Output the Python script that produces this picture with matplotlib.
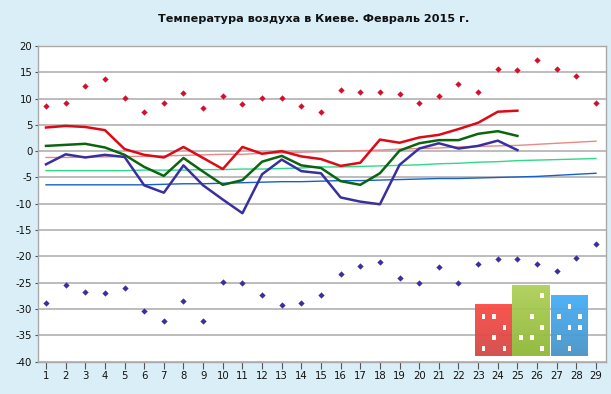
import numpy as np
import matplotlib
matplotlib.use("Agg")
import matplotlib.pyplot as plt
from matplotlib.patches import Rectangle

# Дни месяца
days = list(range(1, 30))
days_obs = days[:25]

# Наблюдения, февраль 2015
t_max = [4.5, 4.8, 4.6, 4.0, 0.4, -0.7, -1.2, 0.8, -1.3, -3.4, 0.8, -0.5, 0.0, -1.0, -1.5,
         -2.8, -2.2, 2.2, 1.6, 2.6, 3.1, 4.2, 5.4, 7.5, 7.7]
t_mean = [1.0, 1.2, 1.4, 0.7, -0.7, -3.0, -4.7, -1.3, -3.9, -6.4, -5.5, -2.0, -0.9, -2.7, -3.2,
          -5.7, -6.4, -4.2, 0.1, 1.5, 2.1, 2.1, 3.3, 3.8, 2.9]
t_min = [-2.5, -0.6, -1.2, -0.7, -1.1, -6.5, -7.9, -2.7, -6.5, -9.2, -11.8, -4.4, -1.6, -3.8, -4.2,
         -8.8, -9.6, -10.1, -2.6, 0.5, 1.5, 0.5, 1.0, 2.0, 0.2]

# Абсолютные рекорды
rec_high = [8.5, 9.2, 12.3, 13.7, 10.2, 7.5, 9.2, 11.0, 8.3, 10.4, 8.9, 10.2, 10.2, 8.5, 7.5,
            11.7, 11.2, 11.2, 10.8, 9.2, 10.4, 12.7, 11.2, 15.7, 15.5, 17.3, 15.7, 14.2, 9.2]
rec_low = [-28.8, -25.4, -26.8, -27.0, -26.0, -30.4, -32.3, -28.5, -32.3, -24.8, -25.0, -27.3, -29.2, -28.8, -27.4,
           -23.3, -21.8, -21.0, -24.2, -25.0, -22.0, -25.0, -21.5, -20.6, -20.6, -21.5, -22.7, -20.4, -17.7]

# Климатические нормы
norm_max = [-1.2, -1.2, -1.1, -1.1, -1.0, -1.0, -0.9, -0.8, -0.7, -0.6, -0.6, -0.4, -0.3, -0.2, -0.1,
            0.0, 0.1, 0.2, 0.4, 0.5, 0.6, 0.8, 0.9, 1.0, 1.1, 1.3, 1.5, 1.7, 1.9]
norm_mean = [-3.7, -3.7, -3.7, -3.7, -3.7, -3.6, -3.6, -3.6, -3.5, -3.5, -3.4, -3.4, -3.3, -3.2, -3.0,
             -3.0, -2.9, -2.8, -2.7, -2.6, -2.4, -2.3, -2.1, -2.0, -1.8, -1.7, -1.6, -1.5, -1.4]
norm_min = [-6.4, -6.4, -6.4, -6.4, -6.4, -6.4, -6.3, -6.2, -6.2, -6.1, -6.0, -5.9, -5.8, -5.8, -5.7,
            -5.6, -5.6, -5.5, -5.4, -5.3, -5.2, -5.2, -5.1, -5.0, -4.9, -4.8, -4.6, -4.4, -4.2]

y_ticks = list(range(-40, 25, 5))
title = "Температура воздуха в Киеве. Февраль 2015 г."

W, H = 611, 394
BG = "#d9eef6"

plt.rcParams["font.family"] = ["DejaVu Sans"]
plt.rcParams["axes.unicode_minus"] = False

fig = plt.figure(figsize=(W / 100, H / 100), dpi=100, facecolor=BG)
ax = fig.add_axes([37.5 / W, (H - 361.5) / H, 568.5 / W, 315.5 / H])
ax.set_xlim(0.567, 29.51)
ax.set_ylim(-40, 20)
ax.set_xticks(days)
ax.set_yticks(y_ticks)
ax.tick_params(axis="x", length=5, width=0.8, color="#555555", labelsize=7.3, pad=1.8, labelcolor="#111111")
ax.tick_params(axis="y", length=2.2, width=0.8, color="#555555", labelsize=7.3, pad=1.5, labelcolor="#111111")
ax.grid(axis="y", color="#b0b0b0", lw=1.2)
ax.set_axisbelow(True)
for s in ax.spines.values():
    s.set_color("#aaaaaa")
    s.set_linewidth(1.0)

# Нормы
ax.plot(days, norm_max, color="#e88888", lw=1.0)
ax.plot(days, norm_mean, color="#30d888", lw=1.0)
ax.plot(days, norm_min, color="#1860c8", lw=1.0)

# Наблюдения
ax.plot(days_obs, t_max, color="#dd0a16", lw=1.8)
ax.plot(days_obs, t_mean, color="#0b650f", lw=1.8)
ax.plot(days_obs, t_min, color="#3a2fa0", lw=1.8)

# Рекорды
ax.plot(days, rec_high, ls="none", marker="D", ms=3.2, color="#d3102c", mew=0)
ax.plot(days, rec_low, ls="none", marker="D", ms=3.2, color="#3a2fa0", mew=0)

fig.text(313.5 / W, 1 - 19 / H, title, ha="center", va="center", fontsize=8.1, fontweight="bold", color="#111111")

# Логотип: домики с окнами (в пикселях картинки)
logo = fig.add_axes([0, 0, 1, 1], facecolor="none")
logo.set_xlim(0, W)
logo.set_ylim(H, 0)
logo.axis("off")


def house(x0, x1, y0, y1, top, bottom, windows):
    grad = np.linspace(0, 1, 32)[:, None, None]
    c = np.array(matplotlib.colors.to_rgb(top)) * (1 - grad) + np.array(matplotlib.colors.to_rgb(bottom)) * grad
    logo.imshow(c, extent=(x0, x1, y1, y0), aspect="auto", alpha=0.95, zorder=2, interpolation="bilinear")
    for wx, wy in windows:
        logo.add_patch(Rectangle((wx - 1.7, wy - 2.5), 3.4, 5, color="#fffaf2", lw=0, zorder=3))


house(475.3, 512.3, 305, 356.3, "#fb4c44", "#d24a48",
      [(483.5, 316.5), (494, 316.5), (504.5, 327), (494, 337.5), (483.5, 348), (504.5, 348)])
house(512.3, 550.3, 286, 356.3, "#aed058", "#8fb838",
      [(542, 295.5), (532, 316.5), (542, 327), (521, 337.5), (532, 337.5), (542, 348)])
house(551, 588, 295.3, 356.3, "#44aef6", "#4a94c8",
      [(569.5, 306), (559, 316.5), (580, 316.5), (569.5, 327), (580, 327), (559, 337.5), (569.5, 348)])
logo.set_xlim(0, W)
logo.set_ylim(H, 0)

fig.savefig("out.png", dpi=100, facecolor=BG)
